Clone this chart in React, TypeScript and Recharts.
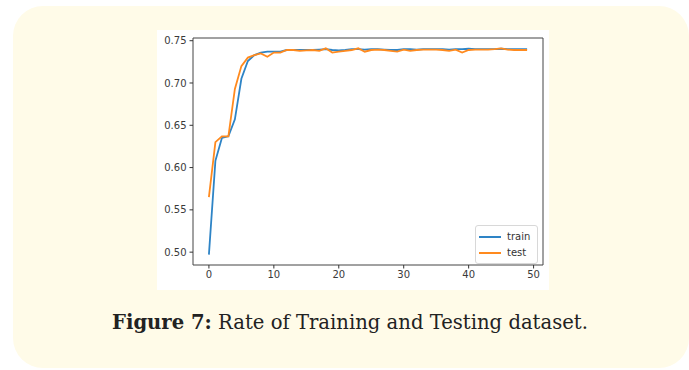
import {
  Legend,
  Line,
  LineChart,
  ReferenceArea,
  XAxis,
  YAxis,
} from "recharts";

// epochs 0..49
const epochs = Array.from({ length: 50 }, (_, i) => i);

const trainAcc = [
  0.497, 0.608, 0.635, 0.637, 0.657, 0.705, 0.726, 0.733, 0.736, 0.737,
  0.737, 0.737, 0.739, 0.739, 0.739, 0.739, 0.739, 0.7395, 0.74, 0.739,
  0.7385, 0.739, 0.74, 0.74, 0.7395, 0.74, 0.74, 0.7395, 0.739, 0.739,
  0.74, 0.74, 0.7395, 0.74, 0.74, 0.74, 0.74, 0.7395, 0.74, 0.74,
  0.7405, 0.74, 0.74, 0.74, 0.74, 0.7405, 0.74, 0.74, 0.74, 0.74,
];

const testAcc = [
  0.565, 0.63, 0.637, 0.637, 0.693, 0.72, 0.73, 0.733, 0.735, 0.731,
  0.736, 0.736, 0.739, 0.739, 0.738, 0.7385, 0.739, 0.738, 0.741, 0.736,
  0.737, 0.738, 0.739, 0.741, 0.737, 0.739, 0.7395, 0.739, 0.738, 0.737,
  0.7395, 0.738, 0.739, 0.7395, 0.7395, 0.7395, 0.739, 0.738, 0.7395, 0.736,
  0.739, 0.7395, 0.7395, 0.7395, 0.74, 0.741, 0.7395, 0.739, 0.739, 0.739,
];

const xTicks = [0, 10, 20, 30, 40, 50];
const yTicks = [0.5, 0.55, 0.6, 0.65, 0.7, 0.75];
const seriesNames = ["train", "test"];
const seriesColors = ["#2e84c6", "#ff8a1e"];

const X_DOMAIN: [number, number] = [-2.45, 51.45];
const Y_DOMAIN: [number, number] = [0.4848, 0.7532];

const data = epochs.map((e, i) => ({
  epoch: e,
  train: trainAcc[i],
  test: testAcc[i],
}));

const tickStyle = {
  fontSize: 10,
  fill: "#3a3a3a",
  fontFamily: "DejaVu Sans, sans-serif",
};

// matplotlib-like legend box
function MplLegend() {
  return (
    <div
      style={{
        border: "1px solid #d8d8d8",
        borderRadius: 3,
        background: "rgba(255,255,255,0.85)",
        padding: "3px 5px 2px 3px",
        fontFamily: "DejaVu Sans, sans-serif",
        fontSize: 10,
        color: "#333",
        lineHeight: "16px",
        width: 63,
        boxSizing: "border-box",
      }}
    >
      {seriesNames.map((name, i) => (
        <div key={name} style={{ display: "flex", alignItems: "center" }}>
          <span
            style={{
              display: "inline-block",
              width: 22,
              height: 2,
              background: seriesColors[i],
              marginRight: 6,
            }}
          />
          <span>{name}</span>
        </div>
      ))}
    </div>
  );
}

export default function App() {
  return (
    <div
      style={{
        position: "absolute",
        left: 0,
        top: 0,
        width: 689,
        height: 370,
        background: "#fff",
        overflow: "hidden",
      }}
    >
      <div
        style={{
          position: "absolute",
          left: 13,
          top: 6,
          width: 676,
          height: 362,
          borderRadius: 30,
          background: "#fffbe8",
        }}
      />
      <div
        style={{
          position: "absolute",
          left: 157,
          top: 30,
          width: 392,
          height: 260,
          background: "#fff",
        }}
      >
        <LineChart
          width={392}
          height={260}
          data={data}
          margin={{ top: 8, right: 6, left: 0, bottom: 0 }}
        >
          <XAxis
            dataKey="epoch"
            type="number"
            domain={X_DOMAIN}
            ticks={xTicks}
            allowDataOverflow
            height={25}
            tick={tickStyle}
            tickSize={3.5}
            tickMargin={2}
            axisLine={false}
            tickLine={{ stroke: "#333" }}
          />
          <YAxis
            type="number"
            domain={Y_DOMAIN}
            ticks={yTicks}
            allowDataOverflow
            width={36}
            tick={tickStyle}
            tickSize={3.5}
            tickMargin={3}
            axisLine={false}
            tickLine={{ stroke: "#333" }}
            tickFormatter={(v: number) => v.toFixed(2)}
          />
          <ReferenceArea
            x1={X_DOMAIN[0]}
            x2={X_DOMAIN[1]}
            y1={Y_DOMAIN[0]}
            y2={Y_DOMAIN[1]}
            fill="none"
            stroke="#444"
            strokeWidth={1}
            ifOverflow="visible"
          />
          <Line
            type="linear"
            dataKey="train"
            stroke={seriesColors[0]}
            strokeWidth={1.8}
            dot={false}
            isAnimationActive={false}
          />
          <Line
            type="linear"
            dataKey="test"
            stroke={seriesColors[1]}
            strokeWidth={1.8}
            dot={false}
            isAnimationActive={false}
          />
          <Legend
            layout="vertical"
            align="center"
            verticalAlign="middle"
            content={<MplLegend />}
            wrapperStyle={{ left: 318, top: 195, width: 63 }}
          />
        </LineChart>
      </div>
      <div
        style={{
          position: "absolute",
          left: 0,
          width: 700,
          top: 311,
          textAlign: "center",
          fontFamily: "DejaVu Serif, serif",
          fontSize: 19.6,
          color: "#222",
          whiteSpace: "nowrap",
        }}
      >
        <b>Figure 7:</b> Rate of Training and Testing dataset.
      </div>
    </div>
  );
}
